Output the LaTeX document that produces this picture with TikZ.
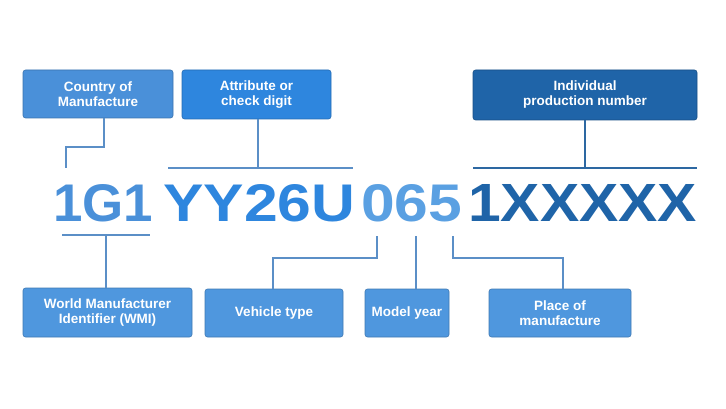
\documentclass[tikz,border=0pt]{standalone}
\usepackage{fontspec}
\setmainfont{Liberation Sans}
\usepackage{graphicx}
\definecolor{cA}{HTML}{4A90D9}
\definecolor{cB}{HTML}{2E86DE}
\definecolor{cC}{HTML}{1F64A8}
\definecolor{cD}{HTML}{4F97DE}
\definecolor{cE}{HTML}{5AA0E2}
\definecolor{ln}{HTML}{5B8FC7}
\begin{document}
\begin{tikzpicture}[x=1pt,y=-1pt,
  lbox/.style={draw=#1!80!black,line width=0.6pt,fill=#1,rounded corners=2.5pt,text=white,font=\bfseries\fontsize{13.5}{15}\selectfont,align=center,inner sep=0pt},
  conn/.style={draw=ln,line width=1.7pt},
  big/.style={inner sep=0pt,anchor=south west,text=#1,font=\bfseries}]
\useasboundingbox (0,0) rectangle (726,409);
\node[lbox=cA,minimum width=150pt,minimum height=48pt] (cm) at (98,94) {Country of\\Manufacture};
\node[lbox=cB,minimum width=149pt,minimum height=49pt] (ac) at (256.5,94.5) {Attribute or\\check digit};
\node[lbox=cC,minimum width=224pt,minimum height=50pt] (ip) at (585,95) {Individual\\production number};
\node[lbox=cD,minimum width=169pt,minimum height=49pt] (wmi) at (107.5,312.5) {World Manufacturer\\Identifier (WMI)};
\node[lbox=cD,minimum width=138pt,minimum height=48pt] (vt) at (274,313) {Vehicle type};
\node[lbox=cD,minimum width=84pt,minimum height=48pt] (my) at (407,313) {Model year};
\node[lbox=cD,minimum width=142pt,minimum height=48pt] (pm) at (560,313) {Place of\\manufacture};
% big code
\node[big=cA] (g1) at (53,222) {\resizebox{100pt}{37pt}{1G1}};
\node[big=cB] (g2) at (163,222) {\resizebox{192pt}{37pt}{YY26U}};
\node[big=cE] (g3) at (361,222) {\resizebox{101pt}{37pt}{065}};
\node[big=cC] (g4) at (468,222) {\resizebox{229pt}{37pt}{1XXXXX}};
% coordinates
\coordinate (a1) at (104,118); \coordinate (a2) at (104,147); \coordinate (a3) at (66,147); \coordinate (a4) at (66,168);
\draw[conn] (cm.south -| a1) -- (a2) -- (a3) -- (a4);
\coordinate (b1) at (168,168); \coordinate (b2) at (353,168);
\draw[conn] (b1) -- (b2);
\coordinate (b3) at (258,168);
\draw[conn] (ac.south -| b3) -- (b3);
\coordinate (c1) at (473,168); \coordinate (c2) at (697,168);
\draw[conn,draw=cC!85!gray] (c1) -- (c2);
\draw[conn,draw=cC!85!gray] (ip.south) -- (ip.south |- c1);
\coordinate (d1) at (62,235); \coordinate (d2) at (150,235);
\draw[conn] (d1) -- (d2);
\draw[conn] (wmi.north -| 106,0) -- (106,235);
\coordinate (e1) at (377,236); \coordinate (e2) at (377,258); \coordinate (e3) at (273,258);
\draw[conn] (e1) -- (e2) -- (e3) -- (e3 |- vt.north);
\coordinate (f1) at (416,236);
\draw[conn] (f1) -- (f1 |- my.north);
\coordinate (h1) at (453,236); \coordinate (h2) at (453,258); \coordinate (h3) at (563,258);
\draw[conn] (h1) -- (h2) -- (h3) -- (h3 |- pm.north);
\end{tikzpicture}
\end{document}
